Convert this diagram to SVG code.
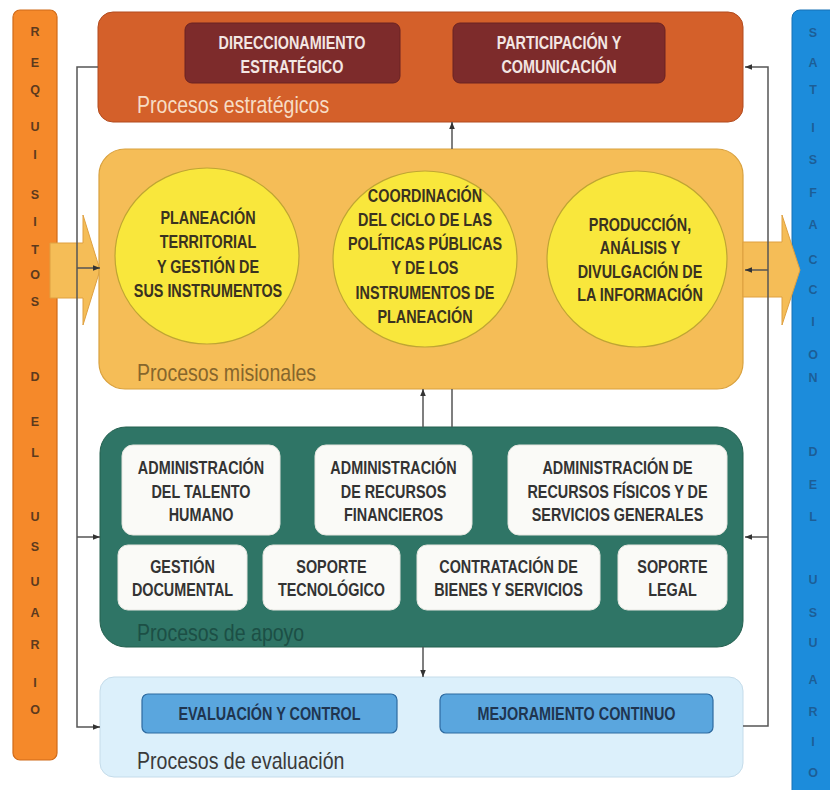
<svg xmlns="http://www.w3.org/2000/svg" width="830" height="790" viewBox="0 0 830 790">
<defs>
<style>
.b{font-family:"Liberation Sans",Arial,sans-serif;font-weight:bold;font-size:18px;text-anchor:middle}
.lbl{font-family:"Liberation Sans",Arial,sans-serif;font-size:23px}
.bar{font-family:"Liberation Sans",Arial,sans-serif;font-weight:bold;font-size:12.5px;text-anchor:middle}
.con{fill:none;stroke:#555;stroke-width:1.5}
.wbox{fill:#FAFAF7;stroke:#E6E6E0;stroke-width:1}
.circ{fill:#F9E73C;stroke:#BFA533;stroke-width:1.2}
.dred{fill:#7D2B2B;stroke:#6A2222;stroke-width:1}
.bbox{fill:#5AA6DE;stroke:#2D6AA0;stroke-width:1.2}
</style>
<marker id="ah" viewBox="0 0 10 10" refX="10" refY="5" markerWidth="7" markerHeight="7" orient="auto" markerUnits="userSpaceOnUse">
<path d="M0,1 L10,5 L0,9 z" fill="#333"/>
</marker>
</defs>
<rect width="830" height="790" fill="#FFFFFF"/>

<g id="requisitos">
<rect x="13" y="10" width="44" height="750" rx="7" fill="#F5892A" stroke="#D06A18" stroke-width="1.2"/>
<g class="bar" fill="#5C3A1E">
<text x="35" y="36">R</text><text x="35" y="67">E</text><text x="35" y="94">Q</text><text x="35" y="131">U</text>
<text x="35" y="159">I</text><text x="35" y="199">S</text><text x="35" y="226">I</text><text x="35" y="254">T</text>
<text x="35" y="279">O</text><text x="35" y="306">S</text><text x="35" y="381">D</text><text x="35" y="426">E</text>
<text x="35" y="457">L</text><text x="35" y="521">U</text><text x="35" y="551">S</text><text x="35" y="586">U</text>
<text x="35" y="617">A</text><text x="35" y="649">R</text><text x="35" y="687">I</text><text x="35" y="714">O</text>
</g>
</g>

<g id="satisfaccion">
<rect x="792" y="10" width="50" height="800" rx="8" fill="#1C8CDB" stroke="#1670B5" stroke-width="1"/>
<g class="bar" fill="#1D4F80" fill-opacity="0.75">
<text x="813" y="37">S</text><text x="813" y="67">A</text><text x="813" y="94">T</text><text x="813" y="132">I</text>
<text x="813" y="164">S</text><text x="813" y="197">F</text><text x="813" y="229">A</text><text x="813" y="264">C</text>
<text x="813" y="294">C</text><text x="813" y="326">I</text><text x="813" y="359">O</text><text x="813" y="382">N</text>
<text x="813" y="456">D</text><text x="813" y="489">E</text><text x="813" y="521">L</text><text x="813" y="584">U</text>
<text x="813" y="617">S</text><text x="813" y="647">U</text><text x="813" y="684">A</text><text x="813" y="716">R</text>
<text x="813" y="746">I</text><text x="813" y="777">O</text>
</g>
</g>

<g id="estrategicos">
<rect x="98" y="12" width="645" height="110" rx="15" fill="#D4602A" stroke="#B24B1E" stroke-width="1"/>
<text class="lbl" fill="#F7DCC4" transform="translate(137,113) scale(0.85,1)">Procesos estratégicos</text>
</g>
<g id="direccionamiento">
<rect class="dred" x="185" y="23" width="215" height="60" rx="7"/>
<g class="b" fill="#F3E6E3" transform="translate(292,0) scale(0.8,1)">
<text x="0" y="49">DIRECCIONAMIENTO</text><text x="0" y="73">ESTRATÉGICO</text>
</g>
</g>
<g id="participacion">
<rect class="dred" x="453" y="23" width="212" height="60" rx="7"/>
<g class="b" fill="#F3E6E3" transform="translate(559,0) scale(0.8,1)">
<text x="0" y="49">PARTICIPACIÓN Y</text><text x="0" y="73">COMUNICACIÓN</text>
</g>
</g>

<g id="flecha-entrada">
<polygon points="50,243 83,243 83,215 100,270 83,325 83,298 50,298" fill="#F5BD57" stroke="#DFA040" stroke-width="1"/>
</g>

<g id="misionales">
<rect x="99" y="149" width="644" height="240" rx="26" fill="#F5BD57" stroke="#D9A13E" stroke-width="1.2"/>
<text class="lbl" fill="#86662C" transform="translate(137,381) scale(0.85,1)">Procesos misionales</text>
</g>

<g id="flecha-salida">
<polygon points="743,242 782,242 782,215 800,270 782,325 782,297 743,297" fill="#F5BD57" stroke="#DFA040" stroke-width="1"/>
</g>

<g id="planeacion">
<ellipse class="circ" cx="207" cy="256" rx="92" ry="88"/>
<g class="b" fill="#3A3220" transform="translate(208,0) scale(0.8,1)">
<text x="0" y="224">PLANEACIÓN</text><text x="0" y="248.5">TERRITORIAL</text><text x="0" y="273">Y GESTIÓN DE</text><text x="0" y="297.5">SUS INSTRUMENTOS</text>
</g>
</g>
<g id="coordinacion">
<ellipse class="circ" cx="425" cy="259" rx="92" ry="88"/>
<g class="b" fill="#3A3220" transform="translate(425,0) scale(0.8,1)">
<text x="0" y="202">COORDINACIÓN</text><text x="0" y="226">DEL CICLO DE LAS</text><text x="0" y="250.5">POLÍTICAS PÚBLICAS</text><text x="0" y="274.5">Y DE LOS</text><text x="0" y="299">INSTRUMENTOS DE</text><text x="0" y="323">PLANEACIÓN</text>
</g>
</g>
<g id="produccion">
<ellipse class="circ" cx="637" cy="259" rx="90" ry="88"/>
<g class="b" fill="#3A3220" transform="translate(640,0) scale(0.8,1)">
<text x="0" y="231">PRODUCCIÓN,</text><text x="0" y="254.5">ANÁLISIS Y</text><text x="0" y="278">DIVULGACIÓN DE</text><text x="0" y="301.5">LA INFORMACIÓN</text>
</g>
</g>

<g id="apoyo">
<rect x="100" y="427" width="643" height="220" rx="26" fill="#2F7566" stroke="#24604F" stroke-width="1"/>
<text class="lbl" fill="#1C4F45" transform="translate(137,641) scale(0.85,1)">Procesos de apoyo</text>
</g>
<g id="talento">
<rect class="wbox" x="122" y="445" width="158" height="90" rx="11"/>
<g class="b" fill="#333" transform="translate(201,0) scale(0.8,1)">
<text x="0" y="474">ADMINISTRACIÓN</text><text x="0" y="498">DEL TALENTO</text><text x="0" y="521">HUMANO</text>
</g>
</g>
<g id="financieros">
<rect class="wbox" x="315" y="445" width="157" height="90" rx="11"/>
<g class="b" fill="#333" transform="translate(393.5,0) scale(0.8,1)">
<text x="0" y="474">ADMINISTRACIÓN</text><text x="0" y="498">DE RECURSOS</text><text x="0" y="521">FINANCIEROS</text>
</g>
</g>
<g id="fisicos">
<rect class="wbox" x="508" y="445" width="219" height="90" rx="11"/>
<g class="b" fill="#333" transform="translate(617.5,0) scale(0.8,1)">
<text x="0" y="474">ADMINISTRACIÓN DE</text><text x="0" y="498">RECURSOS FÍSICOS Y DE</text><text x="0" y="521">SERVICIOS GENERALES</text>
</g>
</g>
<g id="documental">
<rect class="wbox" x="118" y="545" width="129" height="65" rx="10"/>
<g class="b" fill="#333" transform="translate(182.5,0) scale(0.8,1)">
<text x="0" y="573">GESTIÓN</text><text x="0" y="596">DOCUMENTAL</text>
</g>
</g>
<g id="tecnologico">
<rect class="wbox" x="263" y="545" width="137" height="65" rx="10"/>
<g class="b" fill="#333" transform="translate(331.5,0) scale(0.8,1)">
<text x="0" y="573">SOPORTE</text><text x="0" y="596">TECNOLÓGICO</text>
</g>
</g>
<g id="contratacion">
<rect class="wbox" x="417" y="545" width="183" height="65" rx="10"/>
<g class="b" fill="#333" transform="translate(508.5,0) scale(0.8,1)">
<text x="0" y="573">CONTRATACIÓN DE</text><text x="0" y="596">BIENES Y SERVICIOS</text>
</g>
</g>
<g id="legal">
<rect class="wbox" x="618" y="545" width="109" height="65" rx="10"/>
<g class="b" fill="#333" transform="translate(672.5,0) scale(0.8,1)">
<text x="0" y="573">SOPORTE</text><text x="0" y="596">LEGAL</text>
</g>
</g>

<g id="evaluacion">
<rect x="100" y="677" width="643" height="100" rx="14" fill="#DCF0FB" stroke="#C5DCEA" stroke-width="1"/>
<text class="lbl" fill="#3A3A3A" transform="translate(137,769) scale(0.85,1)">Procesos de evaluación</text>
</g>
<g id="evaluacion-control">
<rect class="bbox" x="142" y="694" width="255" height="39" rx="6"/>
<text class="b" fill="#1F3550" transform="translate(269.5,720) scale(0.8,1)" x="0" y="0">EVALUACIÓN Y CONTROL</text>
</g>
<g id="mejoramiento">
<rect class="bbox" x="440" y="694" width="273" height="39" rx="6"/>
<text class="b" fill="#1F3550" transform="translate(576.5,720) scale(0.8,1)" x="0" y="0">MEJORAMIENTO CONTINUO</text>
</g>

<g id="connectors">
<path class="con" d="M98,67 H77 V727 H100" marker-end="url(#ah)"/>
<path class="con" d="M77,268 H100" marker-end="url(#ah)"/>
<path class="con" d="M77,537 H100" marker-end="url(#ah)"/>
<path class="con" d="M743,726 H768 V67 H745" marker-end="url(#ah)"/>
<path class="con" d="M768,270 H745" marker-end="url(#ah)"/>
<path class="con" d="M768,537 H745" marker-end="url(#ah)"/>
<path class="con" d="M452,149 V122" marker-end="url(#ah)"/>
<path class="con" d="M452,427 V389"/>
<path class="con" d="M423,427 V389" marker-end="url(#ah)"/>
<path class="con" d="M423,647 V677" marker-end="url(#ah)"/>
</g>
</svg>
